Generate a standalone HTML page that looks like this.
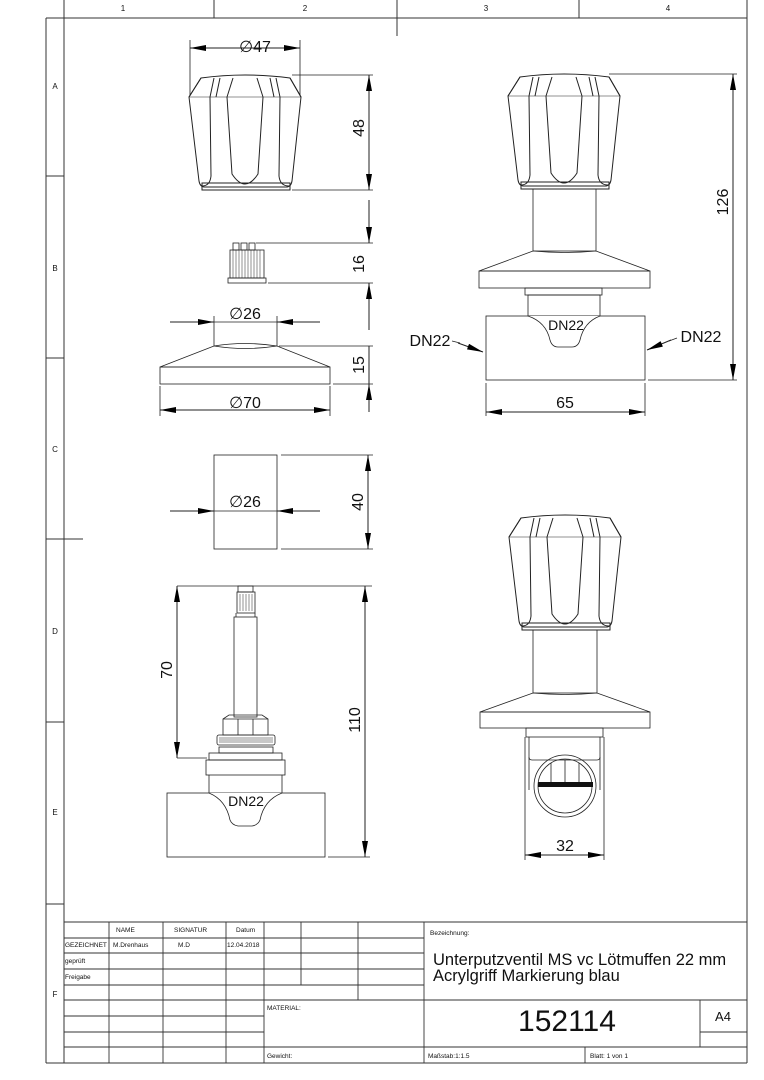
<!DOCTYPE html>
<html><head><meta charset="utf-8"><style>
html,body{margin:0;padding:0;background:#fff}
svg{display:block}
text{font-family:"Liberation Sans",sans-serif;fill:#111}
</style></head><body>
<svg width="764" height="1080" viewBox="0 0 764 1080" xmlns="http://www.w3.org/2000/svg">
<defs>
<marker id="a" viewBox="0 0 16 6" refX="16" refY="3" markerWidth="16" markerHeight="6" markerUnits="userSpaceOnUse" orient="auto-start-reverse"><path d="M0,0 L16,3 L0,6 Z" fill="#000"/></marker>
<g id="knob" fill="none" stroke="#222" stroke-width="1">
<path d="M201,78 Q245,72 290,78 L301,97 L292,181 Q291,187 286,187 L205,187 Q200,187 199,181 L189,97 Z"/>
<path d="M201,78 L189,97 M290,78 L301,97"/>
<path d="M214,78 L210,97 L211,176 Q210,186 202,186"/>
<path d="M220,78 L216,97"/>
<path d="M233,78 L227,97 L232,174 Q245,194 258,174 L263,97 L257,78"/>
<path d="M270,78 L274,97"/>
<path d="M276,78 L280,97 L279,176 Q280,186 289,186"/>
<path d="M189,97 L301,97" stroke-width="0.6"/>
<rect x="202" y="183" width="88" height="7"/>
</g>
</defs>

<!-- frame -->
<g stroke="#333" stroke-width="1" fill="none">
<line x1="46" y1="18" x2="46" y2="1063"/>
<line x1="64" y1="0" x2="64" y2="1063"/>
<line x1="747" y1="0" x2="747" y2="1063"/>
<line x1="46" y1="18" x2="747" y2="18"/>
<line x1="46" y1="1063" x2="747" y2="1063"/>
<line x1="214" y1="0" x2="214" y2="18"/>
<line x1="397" y1="0" x2="397" y2="36"/>
<line x1="579" y1="0" x2="579" y2="18"/>
<line x1="46" y1="176" x2="64" y2="176"/>
<line x1="46" y1="358" x2="64" y2="358"/>
<line x1="46" y1="539" x2="83" y2="539"/>
<line x1="46" y1="722" x2="64" y2="722"/>
<line x1="46" y1="904" x2="64" y2="904"/>
</g>
<g font-size="8" text-anchor="middle">
<text x="123" y="11">1</text><text x="305" y="11">2</text><text x="486" y="11">3</text><text x="668" y="11">4</text>
<text x="55" y="89">A</text><text x="55" y="271">B</text><text x="55" y="452">C</text><text x="55" y="634">D</text><text x="55" y="815">E</text><text x="55" y="997">F</text>
</g>

<!-- top-left knob -->
<use href="#knob"/>
<g stroke="#222" stroke-width="0.8" fill="none">
<line x1="190" y1="40" x2="190" y2="95"/><line x1="300" y1="40" x2="300" y2="95"/>
<line x1="292" y1="75" x2="373" y2="75"/><line x1="292" y1="190" x2="373" y2="190"/>
</g>
<line x1="190" y1="48" x2="300" y2="48" stroke="#222" marker-start="url(#a)" marker-end="url(#a)"/>
<text x="255" y="52" font-size="16" text-anchor="middle">∅47</text>
<line x1="369" y1="75" x2="369" y2="190" stroke="#222" marker-start="url(#a)" marker-end="url(#a)"/>
<text transform="translate(364,128) rotate(-90)" font-size="16" text-anchor="middle">48</text>

<!-- spline piece -->
<g stroke="#222" stroke-width="0.8" fill="none">
<rect x="233" y="243" width="6" height="7"/><rect x="241" y="243" width="6" height="7"/><rect x="249" y="243" width="6" height="7"/>
<rect x="230" y="250" width="34" height="28"/>
<path d="M233,250V278 M236,250V278 M239,250V278 M242,250V278 M245,250V278 M248,250V278 M251,250V278 M254,250V278 M257,250V278 M260,250V278" stroke-width="0.5"/>
<rect x="228" y="278" width="38" height="5"/>
<line x1="256" y1="243" x2="373" y2="243"/><line x1="268" y1="283" x2="373" y2="283"/>
</g>
<line x1="369" y1="200" x2="369" y2="243" stroke="#222" marker-end="url(#a)"/>
<line x1="369" y1="330" x2="369" y2="283" stroke="#222" marker-end="url(#a)"/>
<text transform="translate(364,264) rotate(-90)" font-size="16" text-anchor="middle">16</text>

<!-- rosette -->
<g stroke="#222" stroke-width="0.8" fill="none">
<path d="M214,346 Q245,341 277,346 L330,367 L160,367 Z"/>
<path d="M214,346 Q245,351 277,346"/>
<rect x="160" y="367" width="170" height="17"/>
<line x1="214" y1="316" x2="214" y2="346"/><line x1="277" y1="316" x2="277" y2="346"/>
<line x1="160" y1="386" x2="160" y2="416"/><line x1="330" y1="386" x2="330" y2="416"/>
<line x1="279" y1="346" x2="373" y2="346"/><line x1="333" y1="384" x2="373" y2="384"/>
<line x1="170" y1="322" x2="320" y2="322"/>
</g>
<line x1="170" y1="322" x2="214" y2="322" stroke="#222" marker-end="url(#a)"/>
<line x1="320" y1="322" x2="277" y2="322" stroke="#222" marker-end="url(#a)"/>
<text x="245" y="319" font-size="16" text-anchor="middle">∅26</text>
<line x1="369" y1="346" x2="369" y2="384" stroke="#222"/>
<line x1="369" y1="412" x2="369" y2="384" stroke="#222" marker-end="url(#a)"/>
<text transform="translate(364,365) rotate(-90)" font-size="16" text-anchor="middle">15</text>
<line x1="160" y1="410" x2="330" y2="410" stroke="#222" marker-start="url(#a)" marker-end="url(#a)"/>
<text x="245" y="408" font-size="16" text-anchor="middle">∅70</text>

<!-- sleeve -->
<g stroke="#222" stroke-width="0.8" fill="none">
<rect x="214" y="455" width="63" height="94"/>
<line x1="281" y1="455" x2="373" y2="455"/><line x1="281" y1="549" x2="373" y2="549"/>
<line x1="170" y1="511" x2="320" y2="511"/>
</g>
<line x1="170" y1="511" x2="214" y2="511" stroke="#222" marker-end="url(#a)"/>
<line x1="320" y1="511" x2="277" y2="511" stroke="#222" marker-end="url(#a)"/>
<text x="245" y="507" font-size="16" text-anchor="middle">∅26</text>
<line x1="368" y1="455" x2="368" y2="549" stroke="#222" marker-start="url(#a)" marker-end="url(#a)"/>
<text transform="translate(363,502) rotate(-90)" font-size="16" text-anchor="middle">40</text>

<!-- insert -->
<g stroke="#222" stroke-width="0.8" fill="none">
<rect x="238" y="586" width="15" height="6"/>
<rect x="237" y="592" width="18" height="21"/>
<path d="M240,594V611 M243,594V611 M246,594V611 M249,594V611 M252,594V611" stroke-width="0.5"/>
<rect x="234" y="617" width="23" height="100"/>
<line x1="236" y1="613" x2="236" y2="617"/><line x1="255" y1="613" x2="255" y2="617"/>
<path d="M223,719 L229,715 L262,715 L268,719 L268,735 L223,735 Z"/>
<line x1="238" y1="719" x2="238" y2="735"/><line x1="253" y1="719" x2="253" y2="735"/><line x1="223" y1="719" x2="268" y2="719"/>
<rect x="217" y="735" width="58" height="10" rx="2"/>
<path d="M219,738H273 M219,740H273 M219,742H273" stroke-width="0.5"/>
<rect x="219" y="747" width="54" height="6"/>
<rect x="209" y="753" width="73" height="7"/>
<rect x="206" y="760" width="79" height="15"/>
<path d="M209,775 L209,793 M282,775 L282,793"/>
<rect x="167" y="793" width="158" height="64"/>
<path d="M209,793 Q226,800 230,820 Q232,825 238,826 L252,826 Q258,825 260,820 Q264,800 282,793" fill="#fff"/>
<line x1="177" y1="586" x2="372" y2="586"/>
<line x1="177" y1="758" x2="207" y2="758"/>
<line x1="328" y1="857" x2="370" y2="857"/>
</g>
<text x="246" y="806" font-size="14" text-anchor="middle">DN22</text>
<line x1="177" y1="586" x2="177" y2="758" stroke="#222" marker-start="url(#a)" marker-end="url(#a)"/>
<text transform="translate(172,670) rotate(-90)" font-size="16" text-anchor="middle">70</text>
<line x1="365" y1="586" x2="365" y2="857" stroke="#222" marker-start="url(#a)" marker-end="url(#a)"/>
<text transform="translate(360,720) rotate(-90)" font-size="16" text-anchor="middle">110</text>

<!-- right top assembly -->
<use href="#knob" transform="translate(319,-1)"/>
<g stroke="#222" stroke-width="0.8" fill="none">
<rect x="533" y="189" width="63" height="62"/>
<path d="M533,251 Q565,254 596,251 L650,271 L479,271 Z"/>
<rect x="479" y="271" width="171" height="17"/>
<rect x="525" y="288" width="77" height="7"/>
<rect x="528" y="295" width="72" height="21"/>
<rect x="486" y="316" width="159" height="64"/>
<path d="M528,316 Q546,322 550,340 Q552,347 558,347 L572,347 Q578,347 580,340 Q584,322 600,316" fill="#fff"/>
<line x1="609" y1="74" x2="737" y2="74"/><line x1="648" y1="380" x2="737" y2="380"/>
<line x1="486" y1="383" x2="486" y2="416"/><line x1="645" y1="383" x2="645" y2="416"/>
<line x1="452" y1="341" x2="460" y2="343"/><line x1="677" y1="338" x2="669" y2="341"/>
</g>
<text x="566" y="330" font-size="14" text-anchor="middle">DN22</text>
<line x1="458" y1="343" x2="483" y2="352" stroke="#222" marker-end="url(#a)"/>
<line x1="671" y1="340" x2="647" y2="350" stroke="#222" marker-end="url(#a)"/>
<text x="430" y="346" font-size="16" text-anchor="middle">DN22</text>
<text x="701" y="342" font-size="16" text-anchor="middle">DN22</text>
<line x1="733" y1="74" x2="733" y2="380" stroke="#222" marker-start="url(#a)" marker-end="url(#a)"/>
<text transform="translate(728,202) rotate(-90)" font-size="16" text-anchor="middle">126</text>
<line x1="486" y1="412" x2="645" y2="412" stroke="#222" marker-start="url(#a)" marker-end="url(#a)"/>
<text x="565" y="408" font-size="16" text-anchor="middle">65</text>

<!-- right bottom assembly -->
<use href="#knob" transform="translate(320,440)"/>
<g stroke="#222" stroke-width="0.8" fill="none">
<rect x="533" y="630" width="64" height="63"/>
<path d="M533,693 Q565,696 597,693 L650,712 L480,712 Z"/>
<rect x="480" y="712" width="170" height="16"/>
<rect x="526" y="728" width="77" height="9"/>
<line x1="525" y1="737" x2="525" y2="860"/><line x1="604" y1="737" x2="604" y2="860"/>
<path d="M529,737 V757 Q529,760 532,760 L597,760 Q600,760 600,757 V737"/>
<path d="M529,757 V790 M600,757 V790"/>
<circle cx="565" cy="786" r="31"/>
<circle cx="565" cy="786" r="27"/>
<path d="M551,763V782 M565,760V782 M579,763V782"/>
</g>
<rect x="538" y="782" width="55" height="5" fill="#111"/>
<line x1="525" y1="855" x2="604" y2="855" stroke="#222" marker-start="url(#a)" marker-end="url(#a)"/>
<text x="565" y="851" font-size="16" text-anchor="middle">32</text>

<!-- title block -->
<g stroke="#333" stroke-width="0.9" fill="none">
<line x1="64" y1="922" x2="747" y2="922"/>
<line x1="64" y1="938" x2="424" y2="938"/>
<line x1="64" y1="953" x2="424" y2="953"/>
<line x1="64" y1="969" x2="424" y2="969"/>
<line x1="64" y1="985" x2="424" y2="985"/>
<line x1="64" y1="1000" x2="747" y2="1000"/>
<line x1="64" y1="1016" x2="264" y2="1016"/>
<line x1="64" y1="1032" x2="264" y2="1032"/>
<line x1="64" y1="1047" x2="747" y2="1047"/>
<line x1="700" y1="1032" x2="747" y2="1032"/>
<line x1="109" y1="922" x2="109" y2="1063"/>
<line x1="163" y1="922" x2="163" y2="1063"/>
<line x1="226" y1="922" x2="226" y2="1063"/>
<line x1="264" y1="922" x2="264" y2="1063"/>
<line x1="301" y1="922" x2="301" y2="985"/>
<line x1="358" y1="922" x2="358" y2="1000"/>
<line x1="424" y1="922" x2="424" y2="1063"/>
<line x1="585" y1="1047" x2="585" y2="1063"/>
<line x1="700" y1="1000" x2="700" y2="1047"/>
</g>
<g font-size="6.5">
<text x="116" y="932">NAME</text><text x="174" y="932">SIGNATUR</text><text x="236" y="932">Datum</text>
<text x="65" y="947">GEZEICHNET</text><text x="113" y="947">M.Drenhaus</text><text x="178" y="947">M.D</text><text x="227" y="947">12.04.2018</text>
<text x="65" y="963">geprüft</text><text x="65" y="979">Freigabe</text>
<text x="267" y="1010">MATERIAL:</text><text x="267" y="1058">Gewicht:</text>
<text x="430" y="935">Bezeichnung:</text>
<text x="428" y="1058">Maßstab:1:1.5</text><text x="590" y="1058">Blatt: 1 von 1</text>
</g>
<text x="433" y="965" font-size="16.5">Unterputzventil MS vc Lötmuffen 22 mm</text>
<text x="433" y="981" font-size="16.5">Acrylgriff Markierung blau</text>
<text x="567" y="1031" font-size="30" text-anchor="middle">152114</text>
<text x="723" y="1021" font-size="13" text-anchor="middle">A4</text>
</svg>
</body></html>
